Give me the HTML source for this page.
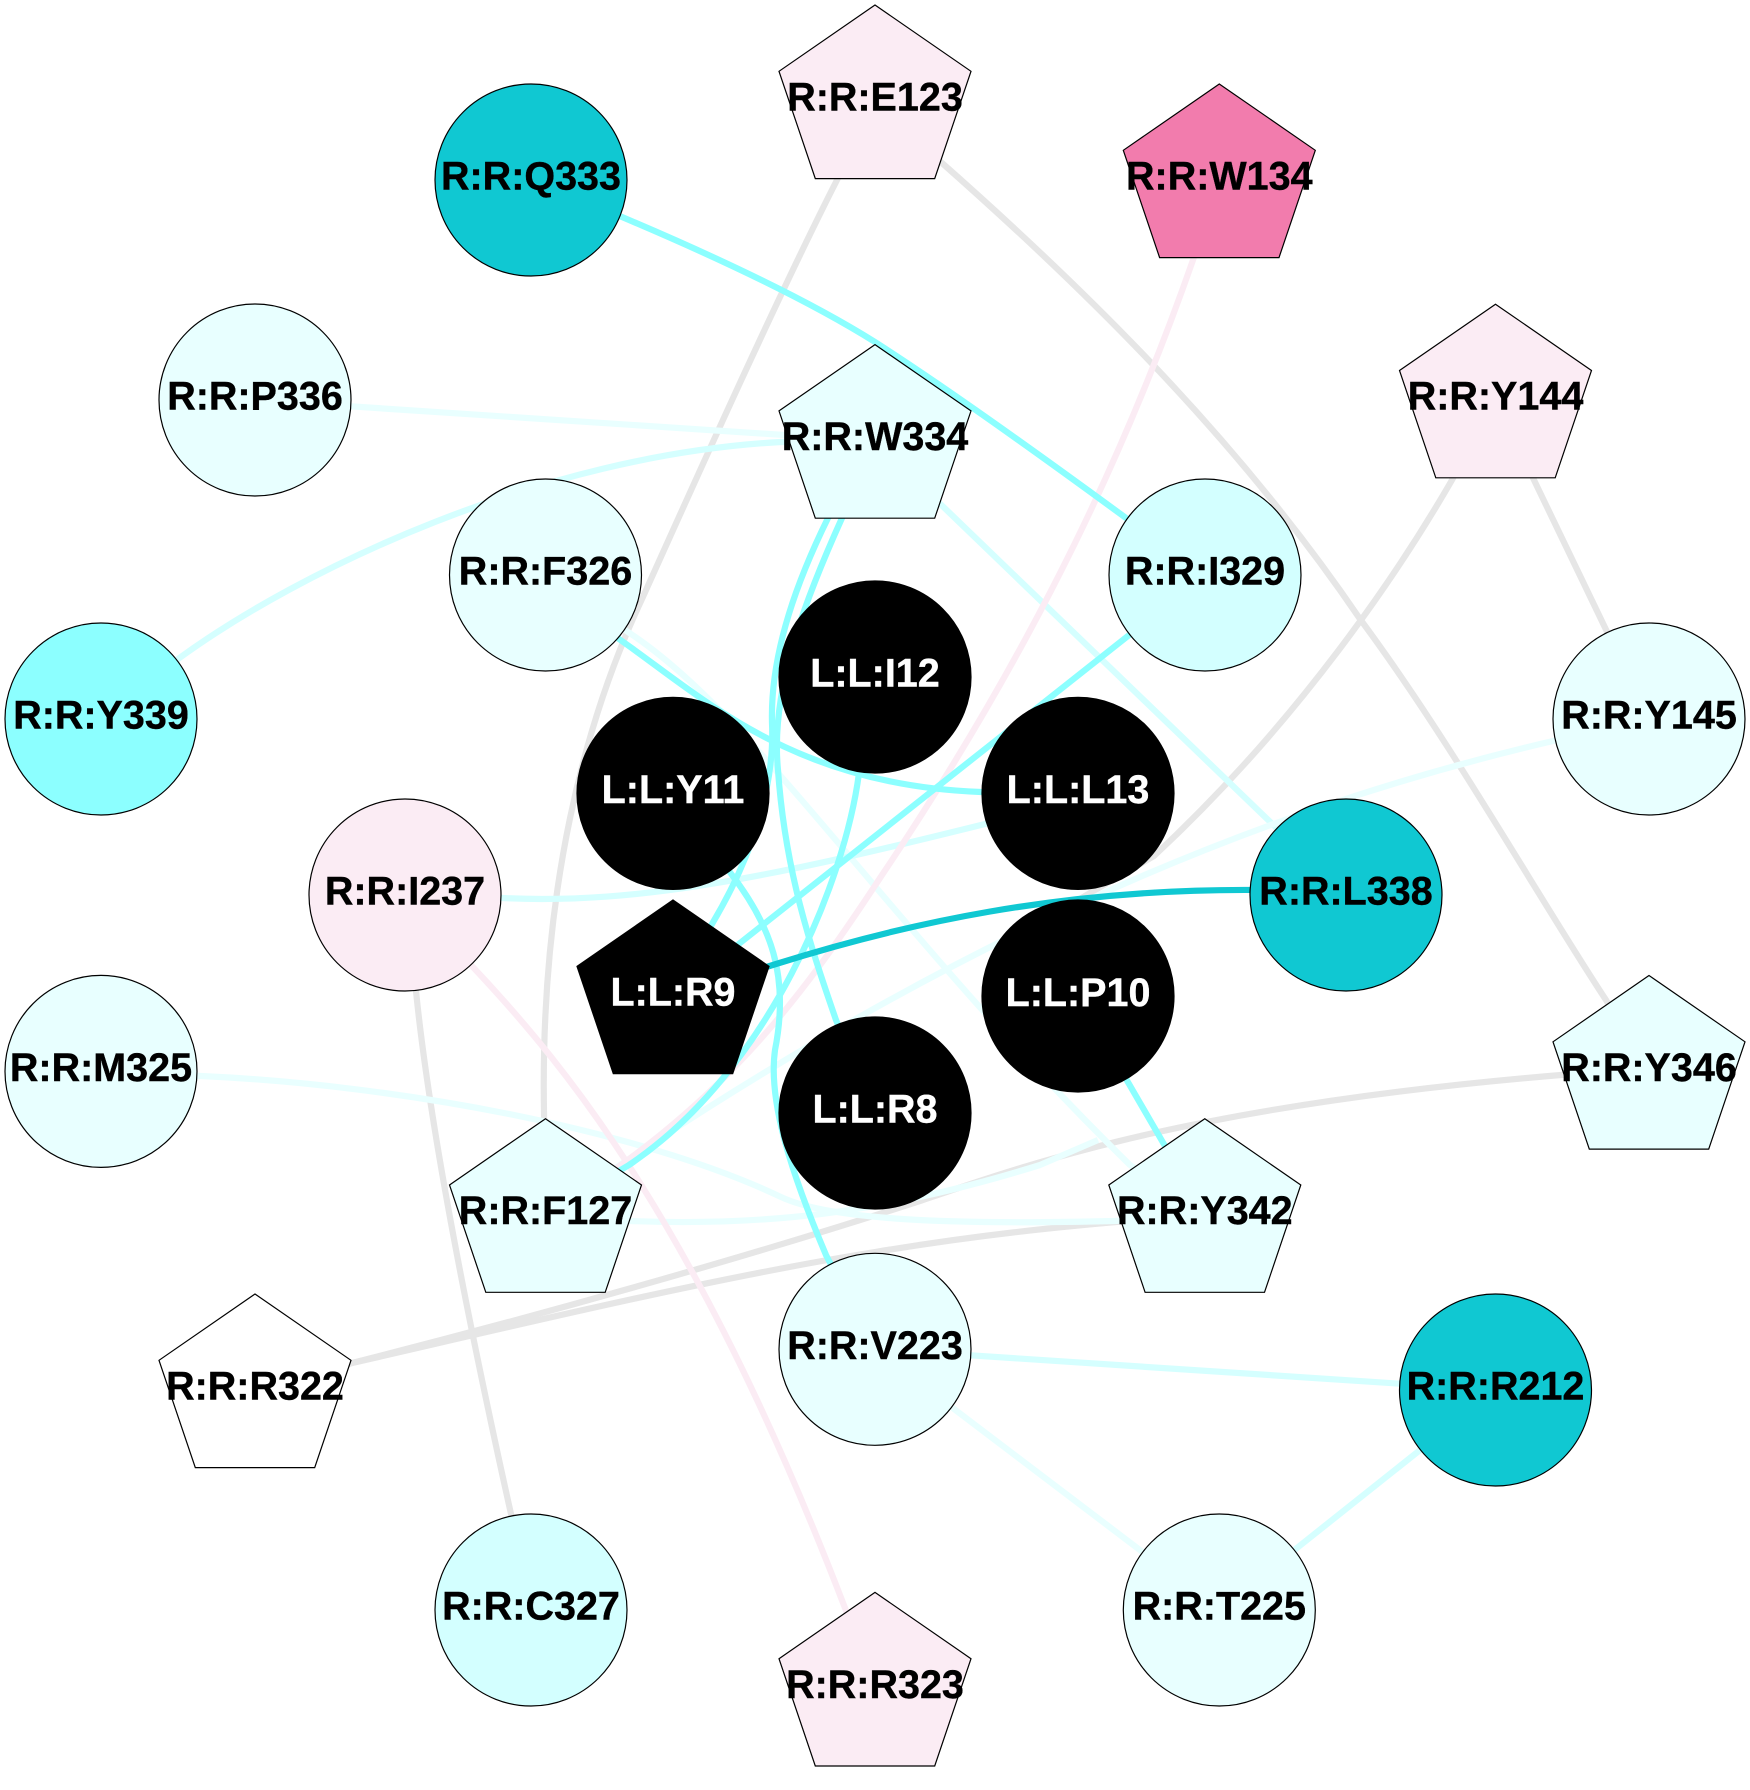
<!DOCTYPE html>
<html><head><meta charset="utf-8"><style>
html,body{margin:0;padding:0;background:#fff}
svg{display:block}
text{font-family:"Liberation Sans",sans-serif;font-weight:bold;font-size:39.5px;text-anchor:middle;fill:#000;stroke:#000;stroke-width:.4}
text.w{fill:#fff;stroke:#fff}
.n{stroke:#000;stroke-width:1.2}
path,line{fill:none;stroke-width:6.2}
.g{stroke:#e6e6e6}.c{stroke:#8cffff}.d{stroke:#d5ffff}.p{stroke:#e9ffff}.k{stroke:#fbecf4}.t{stroke:#10c8d2}
</style></head><body>
<svg width="1750" height="1790" viewBox="0 0 1750 1790" xmlns="http://www.w3.org/2000/svg">
<rect width="1750" height="1790" fill="#fff"/>
<!-- grey -->
<path class="g" d="M875 101L837 180C780 292 700 470 642 599C585 720 540 890 544 1112L545 1215"/>
<path class="g" d="M875 101L942 163C1080 285 1235 435 1360 619C1450 740 1540 900 1606 1000L1649 1071"/>
<path class="g" d="M1495 400L1452 480C1400 570 1300 720 1154 856L1078 900"/>
<line class="g" x1="1495.5" y1="400" x2="1649" y2="719"/>
<path class="g" d="M405 895L416 991C430 1130 470 1330 511 1514L531 1610"/>
<path class="g" d="M255 1390L352 1363C600 1300 800 1240 923 1200C1040 1160 1200 1105 1561 1075L1649 1071"/>
<path class="g" d="M255 1390L352 1363C480 1334 700 1280 875 1252C960 1238 1050 1226 1205 1215"/>
<!-- pale -->
<line class="p" x1="255" y1="400" x2="875" y2="441"/>
<path class="d" d="M101 719L178 659C300 570 540 455 781 442L875 441"/>
<line class="d" x1="875" y1="441" x2="1346" y2="895"/>
<path class="p" d="M545 575L631 634C760 720 890 930 1130 1165L1205 1215"/>
<path class="d" d="M405 895L502 898C640 905 780 875 985 824L1078 793"/>
<path class="p" d="M1649 719L1553 741C1300 800 1000 910 620 1165L545 1215"/>
<path class="p" d="M101 1071L201 1076C400 1085 640 1130 781 1197C830 1220 950 1225 1115 1221L1205 1215"/>
<path class="p" d="M545 1215L630 1221C760 1226 880 1215 1040 1165L1098 1140"/>
<line class="d" x1="875" y1="1349" x2="1495.5" y2="1390"/>
<line class="p" x1="875" y1="1349" x2="1219" y2="1610"/>
<line class="d" x1="1219" y1="1610" x2="1495.5" y2="1390"/>
<!-- pink -->
<path class="k" d="M1219 180L1193 260C1130 440 1040 640 882 875C800 1000 720 1110 545 1215"/>
<path class="k" d="M405 895L471 965C570 1070 700 1230 845 1608L875 1688"/>
<!-- cyan -->
<path class="c" d="M531 180L622 217C700 250 800 295 875 342C947 388 1040 455 1126 518L1205 575"/>
<path class="c" d="M673 996L712 924C750 860 775 790 772 723C770 650 800 575 828 518L875 441"/>
<path class="c" d="M875 441L842 518C805 600 770 690 778 770C785 870 810 945 836 1020L875 1113"/>
<path class="c" d="M673 793L732 875C770 925 790 975 775 1050C768 1100 790 1170 826 1255L875 1349"/>
<path class="c" d="M875 677L859 773C845 880 770 1070 629 1165L545 1215"/>
<line class="c" x1="1205" y1="575" x2="673" y2="996"/>
<path class="c" d="M545 575L619 639C700 695 790 785 981 792L1078 793"/>
<line class="c" x1="1078" y1="996" x2="1205" y2="1215"/>
<path class="t" d="M673 996L776 964C900 925 1060 888 1260 890L1346 895"/>
<!-- nodes: circles -->
<g class="n">
<circle cx="531" cy="180" r="96" fill="#10c8d2"/>
<circle cx="255" cy="400" r="96" fill="#e8ffff"/>
<circle cx="545.5" cy="575" r="96" fill="#e8ffff"/>
<circle cx="1205" cy="575" r="96" fill="#d3ffff"/>
<circle cx="101" cy="719" r="96" fill="#8cffff"/>
<circle cx="1649" cy="719" r="96" fill="#e8ffff"/>
<circle cx="875" cy="677" r="96" fill="#000"/>
<circle cx="673" cy="793.4" r="96" fill="#000"/>
<circle cx="1078" cy="793.4" r="96" fill="#000"/>
<circle cx="405" cy="895" r="96" fill="#fbecf4"/>
<circle cx="1346" cy="895" r="96" fill="#10c8d2"/>
<circle cx="101" cy="1071.4" r="96" fill="#e8ffff"/>
<circle cx="1078" cy="996" r="96" fill="#000"/>
<circle cx="875" cy="1113" r="96" fill="#000"/>
<circle cx="875" cy="1349.3" r="96" fill="#e8ffff"/>
<circle cx="1495.5" cy="1390" r="96" fill="#10c8d2"/>
<circle cx="531" cy="1610" r="96" fill="#d3ffff"/>
<circle cx="1219.3" cy="1610" r="96" fill="#e8ffff"/>
<!-- pentagons -->
<polygon transform="translate(875,101)" points="0,-96 96,-29.7 59.7,77.6 -59.7,77.6 -96,-29.7" fill="#fbecf4"/>
<polygon transform="translate(1219.3,180)" points="0,-96 96,-29.7 59.7,77.6 -59.7,77.6 -96,-29.7" fill="#f27cad"/>
<polygon transform="translate(875,440.6)" points="0,-96 96,-29.7 59.7,77.6 -59.7,77.6 -96,-29.7" fill="#e8ffff"/>
<polygon transform="translate(1495.5,400.2)" points="0,-96 96,-29.7 59.7,77.6 -59.7,77.6 -96,-29.7" fill="#fbecf4"/>
<polygon transform="translate(673,996)" points="0,-96 96,-29.7 59.7,77.6 -59.7,77.6 -96,-29.7" fill="#000"/>
<polygon transform="translate(1649,1071.5)" points="0,-96 96,-29.7 59.7,77.6 -59.7,77.6 -96,-29.7" fill="#e8ffff"/>
<polygon transform="translate(545.5,1214.7)" points="0,-96 96,-29.7 59.7,77.6 -59.7,77.6 -96,-29.7" fill="#e8ffff"/>
<polygon transform="translate(1204.8,1214.7)" points="0,-96 96,-29.7 59.7,77.6 -59.7,77.6 -96,-29.7" fill="#e8ffff"/>
<polygon transform="translate(255,1390)" points="0,-96 96,-29.7 59.7,77.6 -59.7,77.6 -96,-29.7" fill="#fff"/>
<polygon transform="translate(875,1688.4)" points="0,-96 96,-29.7 59.7,77.6 -59.7,77.6 -96,-29.7" fill="#fbecf4"/>
</g>
<!-- labels -->
<text x="531" y="189.5">R:R:Q333</text>
<text x="255" y="409.5">R:R:P336</text>
<text x="545.5" y="584.5">R:R:F326</text>
<text x="1205" y="584.5">R:R:I329</text>
<text x="101" y="728.5">R:R:Y339</text>
<text x="1649" y="728.5">R:R:Y145</text>
<text class="w" x="875" y="686.5">L:L:I12</text>
<text class="w" x="673" y="803">L:L:Y11</text>
<text class="w" x="1078" y="803">L:L:L13</text>
<text x="405" y="904.5">R:R:I237</text>
<text x="1346" y="904.5">R:R:L338</text>
<text x="101" y="1081">R:R:M325</text>
<text class="w" x="1078" y="1006">L:L:P10</text>
<text class="w" x="875" y="1122.5">L:L:R8</text>
<text x="875" y="1359">R:R:V223</text>
<text x="1495.5" y="1399.5">R:R:R212</text>
<text x="531" y="1619.5">R:R:C327</text>
<text x="1219.3" y="1619.5">R:R:T225</text>
<text x="875" y="110.5">R:R:E123</text>
<text x="1219.3" y="189.5">R:R:W134</text>
<text x="875" y="450">R:R:W334</text>
<text x="1495.5" y="409.5">R:R:Y144</text>
<text class="w" x="673" y="1005.5">L:L:R9</text>
<text x="1649" y="1081">R:R:Y346</text>
<text x="545.5" y="1224">R:R:F127</text>
<text x="1204.8" y="1224">R:R:Y342</text>
<text x="255" y="1399.5">R:R:R322</text>
<text x="875" y="1698">R:R:R323</text>
</svg>
</body></html>
